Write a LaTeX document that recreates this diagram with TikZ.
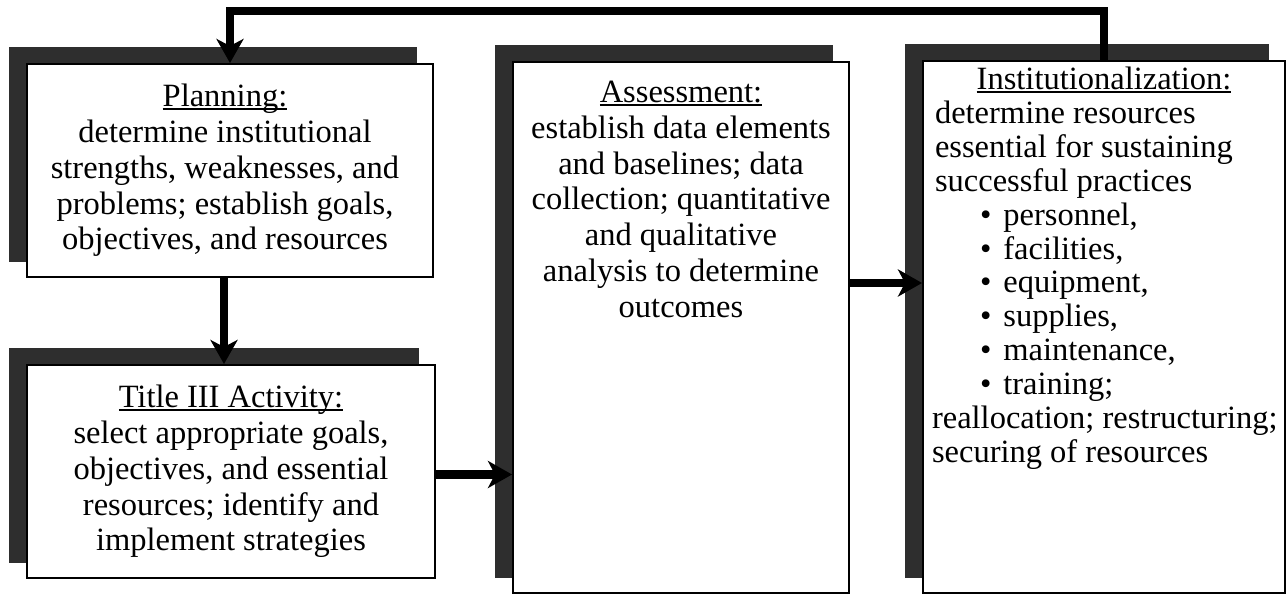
\documentclass[tikz,border=0pt]{standalone}
\usepackage{fontspec}
\setmainfont{Liberation Serif}
\usetikzlibrary{arrows.meta,calc,backgrounds}
\newcommand\myul[1]{\leavevmode\setbox0\hbox{#1}\rlap{\rule[-3.5pt]{\wd0}{1.8pt}}\box0}
\begin{document}
\begin{tikzpicture}[x=1pt,y=-1pt,
  box/.style={draw,line width=2pt,fill=white,inner sep=0pt,anchor=north west,
    font=\fontsize{32.5}{35.8}\selectfont},
  shadowfill/.style={fill=black!82},
  conn/.style={line width=8.5pt,-{Stealth[length=24pt,width=27pt,inset=7pt]}}]
\useasboundingbox (0,0) rectangle (1286,594);

\node[box] (p) at (26,63) {\begin{minipage}[c][213pt][c]{406pt}\centering
\advance\rightskip 10pt
\myul{Planning:}\\
determine institutional\\
strengths, weaknesses, and\\
problems; establish goals,\\
objectives, and resources\end{minipage}};

\node[box] (t) at (26,364) {\begin{minipage}[c][213pt][c]{408pt}\centering
\myul{Title III Activity:}\\
select appropriate goals,\\
objectives, and essential\\
resources; identify and\\
implement strategies\end{minipage}};

\node[box] (a) at (512,61) {\begin{minipage}[c][531pt][t]{336pt}\vspace*{19pt}\centering
\myul{Assessment:}\\
establish data elements\\
and baselines; data\\
collection; quantitative\\
and qualitative\\
analysis to determine\\
outcomes\end{minipage}};

\node[box] (i) at (922,60) {\begin{minipage}[c][532pt][t]{362pt}\vspace*{6pt}
\fontsize{32.5}{33.9}\selectfont
\centering\myul{Institutionalization:}\par
\raggedright
\hspace*{12pt}determine resources\\
\hspace*{12pt}essential for sustaining\\
\hspace*{12pt}successful practices\\
\hspace*{57pt}\textbullet\hspace{12pt}personnel,\\
\hspace*{57pt}\textbullet\hspace{12pt}facilities,\\
\hspace*{57pt}\textbullet\hspace{12pt}equipment,\\
\hspace*{57pt}\textbullet\hspace{12pt}supplies,\\
\hspace*{57pt}\textbullet\hspace{12pt}maintenance,\\
\hspace*{57pt}\textbullet\hspace{12pt}training;\\
\hspace*{9pt}reallocation; restructuring;\\
\hspace*{9pt}securing of resources\end{minipage}};

\begin{scope}[on background layer]
\foreach \n in {p,t,a,i}
  \fill[shadowfill] ($(\n.north west)+(-17,-16)$) rectangle ($(\n.south east)+(-17,-16)$);
\end{scope}

\draw[conn] (i.north) -- (i.north |- 0,11) -| (p.north);
\draw[conn] ([xshift=-6pt]p.south) -- ([xshift=-6pt]p.south |- t.north);
\draw[conn] ([yshift=-3pt]t.east) -- ([yshift=-3pt]t.east -| a.west);
\draw[conn] (a.east |- 0,283) -- (i.west |- 0,283);
\end{tikzpicture}
\end{document}
